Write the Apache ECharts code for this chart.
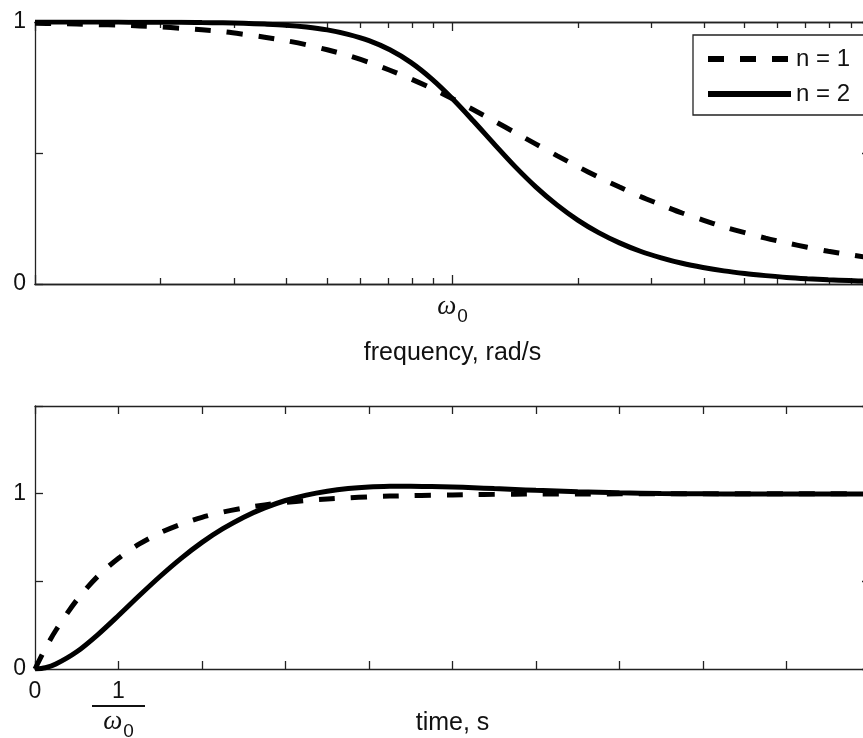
<!DOCTYPE html>
<html>
<head>
<meta charset="utf-8">
<script src="https://cdn.jsdelivr.net/npm/echarts@6/dist/echarts.min.js"></script>
<style>
html,body{margin:0;padding:0;background:#fff;}
#c{width:863px;height:738px;}
</style>
</head>
<body>
<div id="c"></div>
<script>
// ---- Top panel: magnitude vs frequency (x = log10(omega/omega0)) ----
const logFreq = [-1.00,-0.95,-0.90,-0.85,-0.80,-0.75,-0.70,-0.65,-0.60,-0.55,-0.50,-0.45,-0.40,-0.35,-0.30,-0.25,-0.20,-0.15,-0.10,-0.05,
                 0.00,0.05,0.10,0.15,0.20,0.25,0.30,0.35,0.40,0.45,0.50,0.55,0.60,0.65,0.70,0.75,0.80,0.85,0.90,0.95,1.00];
const magN1 = [0.995,0.994,0.992,0.990,0.988,0.985,0.981,0.976,0.970,0.963,0.953,0.942,0.929,0.913,0.894,0.872,0.846,0.816,0.783,0.747,
               0.707,0.665,0.622,0.578,0.534,0.490,0.448,0.408,0.370,0.334,0.302,0.271,0.244,0.218,0.196,0.175,0.157,0.140,0.125,0.112,0.100];
const magN2 = [1.000,1.000,1.000,1.000,1.000,0.999,0.999,0.999,0.998,0.997,0.995,0.992,0.988,0.981,0.970,0.953,0.929,0.894,0.846,0.783,
               0.707,0.622,0.534,0.448,0.370,0.302,0.244,0.196,0.157,0.125,0.100,0.079,0.063,0.050,0.040,0.032,0.025,0.020,0.016,0.013,0.010];
const minorFreqTicks = [0.2,0.3,0.4,0.5,0.6,0.7,0.8,0.9,2,3,4,5,6,7,8,9];   // multiples of omega0
const majorFreqTicks = [0.1,1,10];
const freqLabelTicks = [1];

// ---- Bottom panel: step response vs time ----
const timeS  = [0,0.125,0.25,0.5,0.75,1,1.25,1.5,1.75,2,2.25,2.5,2.75,3,3.25,3.5,3.75,4,4.25,4.5,4.75,5,5.25,5.5,5.75,6,6.5,7,7.5,8,8.5,9,9.5,10];
const stepN1 = [0,0.118,0.221,0.393,0.528,0.632,0.713,0.777,0.826,0.865,0.895,0.918,0.936,0.950,0.961,0.970,0.976,0.982,0.986,0.989,0.991,0.993,0.995,0.996,0.997,0.998,0.998,0.999,0.999,1.000,1.000,1.000,1.000,1.000];
const stepN2 = [0,0.007,0.028,0.098,0.195,0.305,0.419,0.529,0.631,0.722,0.800,0.866,0.919,0.961,0.992,1.014,1.029,1.038,1.042,1.043,1.041,1.038,1.034,1.029,1.024,1.019,1.011,1.005,1.001,0.999,0.998,0.998,0.998,0.999];
const timeLabelTicks = [0,1];
const ampLabelTicks = [0,1];

const seriesNames = ['n = 1','n = 2'];

const FONT = 'Liberation Sans, Arial, sans-serif';
const AX = '#222';
const TXT = '#111';

const rich = {
  w:   {fontFamily:'Liberation Serif', fontStyle:'italic', fontSize:27, color:TXT, lineHeight:28},
  s:   {fontFamily:FONT, fontSize:19, color:TXT, lineHeight:28, padding:[20,0,0,1]},
  one: {fontFamily:FONT, fontSize:23, color:TXT, lineHeight:24},
  bar: {width:53, height:2, lineHeight:4, backgroundColor:TXT},
  n:   {fontFamily:FONT, fontSize:23, color:TXT, lineHeight:24}
};

function pairs(xs, ys){ return xs.map((x,i)=>[x, ys[i]]); }
const lg = v => Math.log10(v);

function frame(extra){
  return Object.assign({
    axisLine:{show:true, onZero:false, lineStyle:{color:AX, width:1.3}},
    splitLine:{show:false},
    axisLabel:{show:false},
    nameMoveOverlap:false
  }, extra);
}

const option = {
  animation:false,
  backgroundColor:'#fff',
  grid:[
    {left:35, right:-7, top:22, height:262, outerBoundsMode:'none', containLabel:false},
    {left:35, right:-7, top:406, height:263, outerBoundsMode:'none', containLabel:false}
  ],
  legend:{
    orient:'vertical', left:693, top:35,
    padding:[12,14,9,12], itemWidth:83, itemHeight:14, itemGap:11,
    textStyle:{fontSize:24, fontFamily:FONT, color:TXT, lineHeight:24},
    borderColor:AX, borderWidth:1.3, borderRadius:0, backgroundColor:'#fff',
    lineStyle:{width:6},
    itemStyle:{color:'rgba(0,0,0,0)', borderWidth:0, opacity:0},
    selectedMode:false,
    data:seriesNames
  },
  xAxis:[
    frame({gridIndex:0, type:'value', position:'bottom', min:-1, max:1,
      axisTick:{show:true, inside:true, length:6, customValues:minorFreqTicks.map(lg), lineStyle:{color:AX, width:1.3}}}),
    frame({gridIndex:0, type:'value', position:'bottom', min:-1, max:1,
      axisTick:{show:true, inside:true, length:9, customValues:majorFreqTicks.map(lg), lineStyle:{color:AX, width:1.3}},
      axisLabel:{show:true, margin:9, customValues:freqLabelTicks.map(lg), formatter:()=>'{w|ω}{s|0}', rich:rich},
      name:'frequency, rad/s', nameLocation:'middle', nameGap:57,
      nameTextStyle:{fontSize:25, fontFamily:FONT, color:TXT, lineHeight:25}}),
    frame({gridIndex:0, type:'value', position:'top', min:-1, max:1,
      axisTick:{show:true, inside:true, length:6, customValues:minorFreqTicks.map(lg), lineStyle:{color:AX, width:1.3}}}),
    frame({gridIndex:0, type:'value', position:'top', min:-1, max:1,
      axisTick:{show:true, inside:true, length:9, customValues:majorFreqTicks.map(lg), lineStyle:{color:AX, width:1.3}}}),
    frame({gridIndex:1, type:'value', position:'bottom', min:0, max:10, interval:1,
      axisTick:{show:true, inside:true, length:8, lineStyle:{color:AX, width:1.3}},
      axisLabel:{show:true, margin:11, customValues:timeLabelTicks,
        formatter:v => v===0 ? '{n|0}' : '{one|1}\n{bar| }\n{w|ω}{s|0}', rich:rich},
      name:'time, s', nameLocation:'middle', nameGap:42,
      nameTextStyle:{fontSize:25, fontFamily:FONT, color:TXT, lineHeight:25}}),
    frame({gridIndex:1, type:'value', position:'top', min:0, max:10, interval:1,
      axisTick:{show:true, inside:true, length:8, lineStyle:{color:AX, width:1.3}}})
  ],
  yAxis:[
    frame({gridIndex:0, type:'value', position:'left', min:0, max:1, interval:0.5,
      axisTick:{show:true, inside:true, length:8, lineStyle:{color:AX, width:1.3}},
      axisLabel:{show:true, margin:9, customValues:ampLabelTicks, fontSize:23, fontFamily:FONT, color:TXT}}),
    frame({gridIndex:0, type:'value', position:'right', min:0, max:1, interval:0.5,
      axisTick:{show:true, inside:true, length:8, lineStyle:{color:AX, width:1.3}}}),
    frame({gridIndex:1, type:'value', position:'left', min:0, max:1.5, interval:0.5,
      axisTick:{show:true, inside:true, length:8, lineStyle:{color:AX, width:1.3}},
      axisLabel:{show:true, margin:9, customValues:ampLabelTicks, fontSize:23, fontFamily:FONT, color:TXT}}),
    frame({gridIndex:1, type:'value', position:'right', min:0, max:1.5, interval:0.5,
      axisTick:{show:true, inside:true, length:8, lineStyle:{color:AX, width:1.3}}})
  ],
  series:[
    {name:seriesNames[0], type:'line', xAxisIndex:1, yAxisIndex:0, data:pairs(logFreq, magN1),
     symbol:'none', smooth:0.3, silent:true, lineStyle:{color:'#000', width:5, type:[16,16], cap:'butt'}, itemStyle:{color:'#000'}},
    {name:seriesNames[1], type:'line', xAxisIndex:1, yAxisIndex:0, data:pairs(logFreq, magN2),
     symbol:'none', smooth:0.3, silent:true, lineStyle:{color:'#000', width:5, type:'solid'}, itemStyle:{color:'#000'}},
    {name:seriesNames[0], type:'line', xAxisIndex:4, yAxisIndex:2, data:pairs(timeS, stepN1),
     symbol:'none', smooth:0.3, silent:true, lineStyle:{color:'#000', width:5, type:[16,16], cap:'butt'}, itemStyle:{color:'#000'}},
    {name:seriesNames[1], type:'line', xAxisIndex:4, yAxisIndex:2, data:pairs(timeS, stepN2),
     symbol:'none', smooth:0.3, silent:true, lineStyle:{color:'#000', width:5, type:'solid'}, itemStyle:{color:'#000'}}
  ]
};

const chart = echarts.init(document.getElementById('c'), null, {renderer:'canvas'});
chart.setOption(option);
</script>
</body>
</html>
